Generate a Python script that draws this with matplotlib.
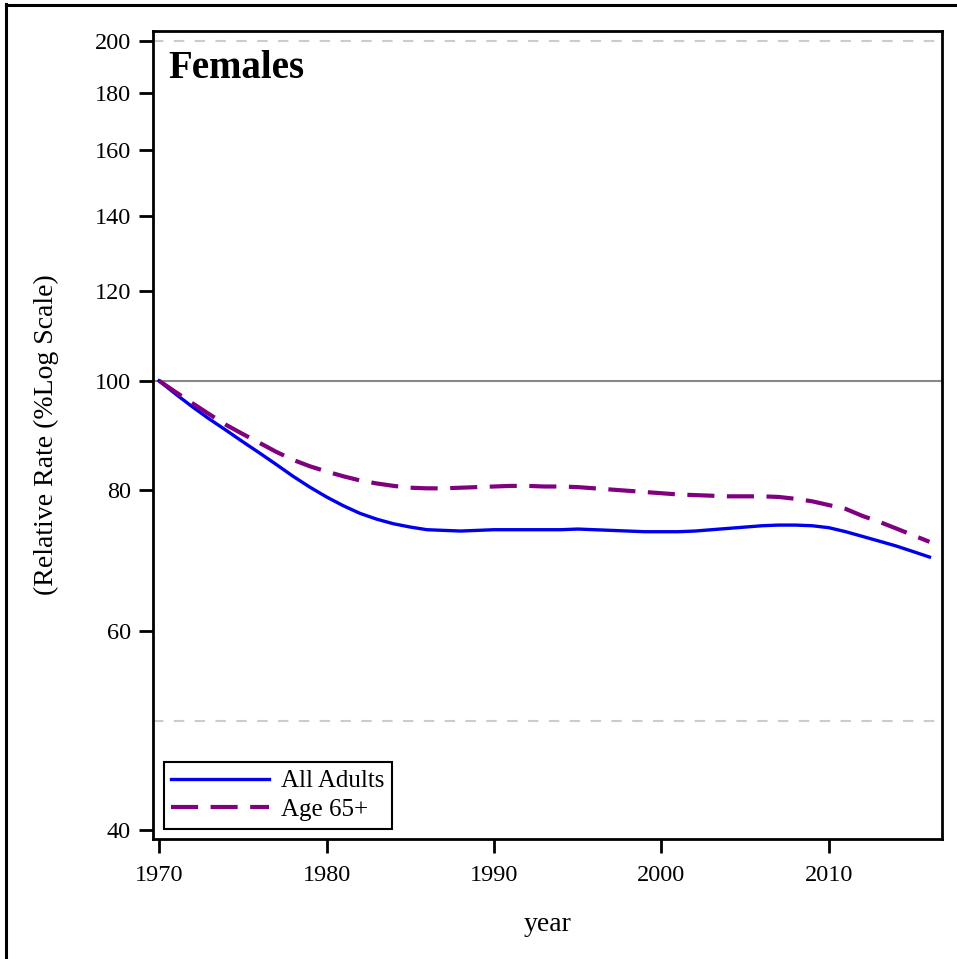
import matplotlib
matplotlib.use('Agg')
import matplotlib.pyplot as plt
from matplotlib.ticker import FixedLocator, FixedFormatter, NullLocator
from matplotlib.lines import Line2D

years = list(range(1970, 2017))
all_adults = [100, 97.3, 94.8, 92.5, 90.4, 88.3, 86.3, 84.3, 82.3, 80.5,
              78.9, 77.5, 76.3, 75.4, 74.7, 74.2, 73.8, 73.7, 73.6, 73.7,
              73.8, 73.8, 73.8, 73.8, 73.8, 73.9, 73.8, 73.7, 73.6, 73.5,
              73.5, 73.5, 73.6, 73.8, 74.0, 74.2, 74.4, 74.5, 74.5, 74.4,
              74.1, 73.5, 72.8, 72.1, 71.4, 70.6, 69.8]
age65 = [100, 97.7, 95.5, 93.4, 91.4, 89.7, 88.1, 86.5, 85.1, 84.0,
         83.1, 82.3, 81.6, 81.1, 80.7, 80.4, 80.3, 80.3, 80.4, 80.5,
         80.6, 80.7, 80.7, 80.6, 80.6, 80.5, 80.3, 80.1, 79.9, 79.7,
         79.5, 79.3, 79.2, 79.1, 79.0, 79.0, 79.0, 78.9, 78.6, 78.2,
         77.6, 77.0, 75.9, 75.0, 74.0, 73.0, 72.0]
yticks = [40, 60, 80, 100, 120, 140, 160, 180, 200]
xticks = [1970, 1980, 1990, 2000, 2010]
ref_lines = [50, 200]

plt.rcParams['font.family'] = ['Liberation Serif', 'DejaVu Serif']

fig = plt.figure(figsize=(9.57, 9.59), dpi=100)
ax = fig.add_axes([0.1599, 0.1251, 0.8241, 0.8426])

for r in ref_lines:
    ax.axhline(r, color='#cccccc', lw=1.5, dashes=(5, 5), zorder=1)
ax.axhline(100, color='#888888', lw=1.5, zorder=1)

ax.plot(years, all_adults, color='#0000ee', lw=2.4, label='All Adults', zorder=3)
ax.plot(years, age65, color='#800080', lw=3, dashes=(6.5, 3), label='Age 65+', zorder=3)

ax.set_yscale('log')
ax.set_ylim(39.27, 204.1)
ax.set_xlim(1969.64, 2016.73)
ax.yaxis.set_major_locator(FixedLocator(yticks))
ax.yaxis.set_major_formatter(FixedFormatter([str(t) for t in yticks]))
ax.yaxis.set_minor_locator(NullLocator())
ax.set_xticks(xticks)

for s in ax.spines.values():
    s.set_linewidth(2)
ax.tick_params(length=10, width=2, labelsize=17.5, pad=6)
ax.tick_params(axis='x', pad=9)

ax.set_ylabel('(Relative Rate (%Log Scale)', fontsize=20, va='center')
ax.yaxis.set_label_coords(-0.135, 0.5)
ax.set_xlabel('year', fontsize=20, va='center')
ax.xaxis.set_label_coords(0.5, -0.106)

ax.text(0.02, 0.976, 'Females', transform=ax.transAxes, fontsize=28,
        fontweight='bold', va='top', ha='left')

leg = ax.legend(loc='lower left', fontsize=18, handlelength=3.9, handletextpad=0.5,
                fancybox=False, framealpha=1, edgecolor='black', borderpad=0.3,
                labelspacing=0.25, borderaxespad=0.42)
leg.get_frame().set_linewidth(1.5)

# outer frame (left and top edges only show in the picture)
fig.add_artist(Line2D([5.5 / 957, 5.5 / 957], [0, 1 - 4 / 959], color='black', lw=2.2,
                      transform=fig.transFigure))
fig.add_artist(Line2D([5.5 / 957, 1], [1 - 4.5 / 959, 1 - 4.5 / 959], color='black', lw=2.2,
                      transform=fig.transFigure))

fig.savefig('out.png', dpi=100)
